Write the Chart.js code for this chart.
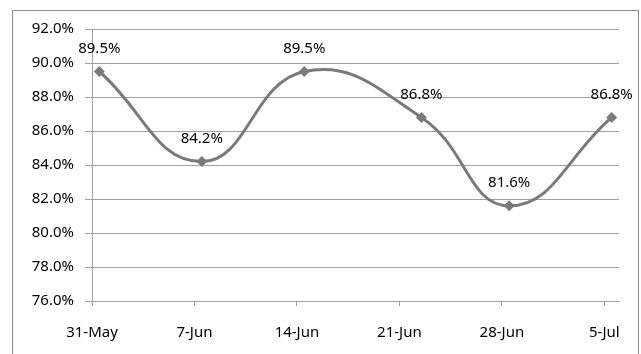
<!DOCTYPE html>
<html>
<head>
<meta charset="utf-8">
<script src="https://cdn.jsdelivr.net/npm/chart.js@4/dist/chart.umd.min.js"></script>
<style>
  html, body { margin: 0; padding: 0; background: #fff; }
  #chart { display: block; }
</style>
</head>
<body>
<canvas id="chart" width="641" height="354"></canvas>
<script>
// days after 31-May for each reading, and the reading (%)
var dayOffsets = [0, 7, 14, 22, 28, 35];
var rates = [89.5, 84.2, 89.5, 86.8, 81.6, 86.8];

var tickDays = [0, 7, 14, 21, 28, 35];
var tickLabels = ['31-May', '7-Jun', '14-Jun', '21-Jun', '28-Jun', '5-Jul'];

var yTicks = [76, 78, 80, 82, 84, 86, 88, 90, 92];

var fontFamily = '"Noto Sans", "Open Sans", sans-serif';
var gray = '#7a7a7a';
var gridGray = '#a0a0a0';

// excel puts each point in the middle of its day
var points = dayOffsets.map(function (d, i) {
  return { x: d + 0.5, y: rates[i] };
});

const frame = {
  id: 'outer_frame',
  beforeDraw: (chart) => {
    const ctx = chart.ctx;
    ctx.save();
    ctx.fillStyle = '#ffffff';
    ctx.fillRect(0, 0, chart.width, chart.height);
    ctx.strokeStyle = '#8c8c8c';
    ctx.lineWidth = 1;
    ctx.strokeRect(12.5, 10.5, 626, 360);
    ctx.restore();
  }
};

const valueLabels = {
  id: 'value_labels',
  afterDatasetsDraw: (chart) => {
    const ctx = chart.ctx;
    const meta = chart.getDatasetMeta(0);
    ctx.save();
    ctx.font = '15px ' + fontFamily;
    ctx.fillStyle = '#000';
    ctx.textAlign = 'center';
    ctx.textBaseline = 'middle';
    meta.data.forEach(function (pt, i) {
      ctx.fillText(rates[i].toFixed(1) + '%', pt.x, pt.y - 23);
    });
    ctx.restore();
  }
};

var config = {
  type: 'line',
  data: {
    datasets: [{
      data: points,
      borderColor: gray,
      backgroundColor: gray,
      borderWidth: 3,
      tension: 0.45,
      pointStyle: 'rectRot',
      pointRadius: 5.5,
      pointHoverRadius: 5.5,
      pointBorderWidth: 0,
      fill: false
    }]
  },
  options: {
    responsive: false,
    animation: false,
    events: [],
    layout: { padding: { left: 0, right: 22, top: 29, bottom: 0 } },
    plugins: {
      legend: { display: false },
      tooltip: { enabled: false }
    },
    scales: {
      x: {
        type: 'linear',
        min: 0,
        max: 36,
        afterBuildTicks: (scale) => {
          scale.ticks = tickDays.map(function (v) { return { value: v }; });
        },
        afterFit: (scale) => { scale.height = 53; },
        ticks: {
          autoSkip: false,
          maxRotation: 0,
          padding: 18,
          color: '#000',
          font: { family: fontFamily, size: 15 },
          callback: function (v) {
            var i = tickDays.indexOf(v);
            return i >= 0 ? tickLabels[i] : '';
          }
        },
        grid: {
          drawOnChartArea: false,
          drawTicks: true,
          tickLength: 5,
          color: gridGray
        },
        border: { color: gridGray, width: 1 }
      },
      y: {
        min: 76,
        max: 92,
        afterBuildTicks: (scale) => {
          scale.ticks = yTicks.map(function (v) { return { value: v }; });
        },
        afterFit: (scale) => { scale.width = 92; },
        ticks: {
          padding: 11,
          color: '#000',
          font: { family: fontFamily, size: 15 },
          callback: function (v) { return v.toFixed(1) + '%'; }
        },
        grid: {
          color: gridGray,
          tickLength: 7
        },
        border: { color: gridGray, width: 1 }
      }
    }
  },
  plugins: [frame, valueLabels]
};

var currentChart = new Chart(document.getElementById('chart'), config);
</script>
</body>
</html>
